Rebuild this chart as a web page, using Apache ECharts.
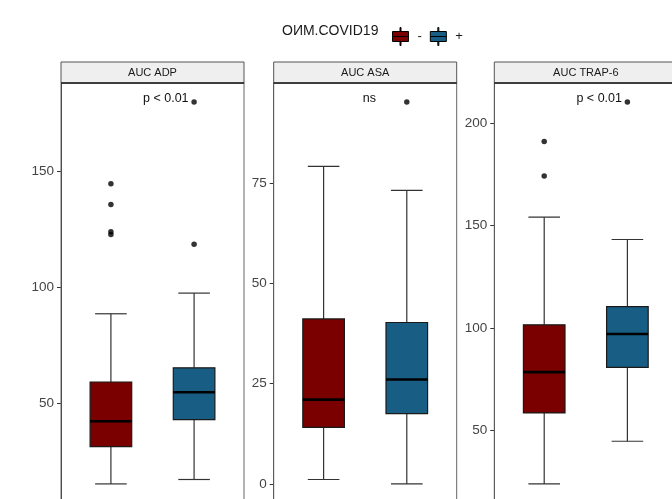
<!DOCTYPE html>
<html>
<head>
<meta charset="utf-8">
<script src="https://cdn.jsdelivr.net/npm/echarts@6/dist/echarts.min.js"></script>
<style>html,body{margin:0;padding:0;background:#fff;}#c{width:672px;height:499px;}</style>
</head>
<body>
<div id="c"></div>
<script>
// ---- data ----
const panels = ['AUC ADP', 'AUC ASA', 'AUC TRAP-6'];
const groups = ['-', '+'];
const groupX = [1, 2];
const legendTitle = 'ОИМ.COVID19';
// [min whisker, Q1, median, Q3, max whisker]
const adpNeg = [15.1, 31.2, 42.1, 59.0, 88.4];
const adpPos = [17.0, 42.8, 54.6, 65.1, 97.3];
const asaNeg = [1.1, 14.1, 21.0, 41.1, 79.1];
const asaPos = [0.0, 17.5, 26.0, 40.2, 73.1];
const trapNeg = [24.0, 58.6, 78.5, 101.6, 154.1];
const trapPos = [44.8, 80.8, 97.1, 110.5, 143.2];
// outliers
const adpNegOut = [144.4, 135.5, 123.7, 122.5];
const adpPosOut = [118.4, 179.6];
const asaNegOut = [];
const asaPosOut = [95.1];
const trapNegOut = [191.0, 174.1];
const trapPosOut = [210.2];
// tick labels
const ticksADP = [50, 100, 150];
const ticksASA = [0, 25, 50, 75];
const ticksTRAP = [50, 100, 150, 200];
// significance labels
const sigLabels = ['p < 0.01', 'ns', 'p < 0.01'];

// ---- layout / style ----
const colors = ['#7A0000', '#185E84'];
const gridLefts = [61, 273.7, 494.3];
const gridW = 183, gridTop = 83, gridH = 420;
const stripTop = 62;

const boxes = [[adpNeg, adpPos], [asaNeg, asaPos], [trapNeg, trapPos]];
const outs = [[adpNegOut, adpPosOut], [asaNegOut, asaPosOut], [trapNegOut, trapPosOut]];
const ticks = [ticksADP, ticksASA, ticksTRAP];

function range(p) {
  let lo = Infinity, hi = -Infinity;
  for (let g = 0; g < 2; g++) {
    boxes[p][g].concat(outs[p][g]).forEach(v => { lo = Math.min(lo, v); hi = Math.max(hi, v); });
  }
  const e = (hi - lo) * 0.05;
  return [lo - e, hi + e];
}

function renderBox(params, api) {
  const x = api.value(0);
  const lo = api.coord([x, api.value(1)]);
  const q1 = api.coord([x, api.value(2)]);
  const md = api.coord([x, api.value(3)]);
  const q3 = api.coord([x, api.value(4)]);
  const hi = api.coord([x, api.value(5)]);
  const bw = api.size([0.5, 0])[0];
  const cw = api.size([0.38, 0])[0];
  const cx = lo[0];
  const color = api.visual('color');
  const ws = { stroke: '#333', lineWidth: 1.2 };
  return {
    type: 'group',
    children: [
      { type: 'line', shape: { x1: cx, y1: hi[1], x2: cx, y2: q3[1] }, style: ws },
      { type: 'line', shape: { x1: cx, y1: q1[1], x2: cx, y2: lo[1] }, style: ws },
      { type: 'line', shape: { x1: cx - cw / 2, y1: hi[1], x2: cx + cw / 2, y2: hi[1] }, style: ws },
      { type: 'line', shape: { x1: cx - cw / 2, y1: lo[1], x2: cx + cw / 2, y2: lo[1] }, style: ws },
      { type: 'rect', shape: { x: cx - bw / 2, y: q3[1], width: bw, height: q1[1] - q3[1] },
        style: { fill: color, stroke: '#1A1A1A', lineWidth: 1.2 } },
      { type: 'line', shape: { x1: cx - bw / 2, y1: md[1], x2: cx + bw / 2, y2: md[1] },
        style: { stroke: '#000', lineWidth: 2.6 } }
    ]
  };
}

const grid = [], xAxis = [], yAxis = [], series = [], graphic = [];
for (let p = 0; p < 3; p++) {
  const r = range(p);
  grid.push({ left: gridLefts[p], top: gridTop, width: gridW, height: gridH, outerBoundsMode: 'none', containLabel: false });
  xAxis.push({ gridIndex: p, type: 'value', min: 0.4, max: 2.6, show: false });
  yAxis.push({
    gridIndex: p, type: 'value', min: r[0], max: r[1],
    splitLine: { show: false },
    axisLine: { show: true, onZero: false, lineStyle: { color: '#333', width: 1 } },
    axisTick: { show: true, length: 4, customValues: ticks[p], lineStyle: { color: '#333' } },
    axisLabel: { customValues: ticks[p], fontFamily: 'Liberation Sans, Arial', fontSize: 13.5, color: '#444', margin: 7 }
  });
  for (let g = 0; g < 2; g++) {
    series.push({
      type: 'custom', name: groups[g], xAxisIndex: p, yAxisIndex: p,
      itemStyle: { color: colors[g] },
      renderItem: renderBox,
      encode: { x: 0, y: [1, 2, 3, 4, 5] },
      data: [[groupX[g]].concat(boxes[p][g])],
      z: 3
    });
    if (outs[p][g].length) {
      series.push({
        type: 'scatter', name: 'outliers', xAxisIndex: p, yAxisIndex: p,
        symbolSize: 5.5, itemStyle: { color: '#000' },
        data: outs[p][g].map(v => [groupX[g], v]), z: 4
      });
    }
  }
  const L = gridLefts[p];
  // panel border
  graphic.push({ type: 'rect', shape: { x: L, y: gridTop, width: gridW, height: gridH },
    style: { fill: 'none', stroke: '#666', lineWidth: 1 }, z: 1 });
  // strip
  graphic.push({ type: 'rect', shape: { x: L, y: stripTop, width: gridW, height: gridTop - stripTop },
    style: { fill: '#EFEFEF', stroke: '#555', lineWidth: 1 }, z: 1 });
  graphic.push({ type: 'line', shape: { x1: L, y1: gridTop, x2: L + gridW, y2: gridTop },
    style: { stroke: '#222', lineWidth: 1.3 }, z: 2 });
  graphic.push({ type: 'text', x: L + gridW / 2, y: (stripTop + gridTop) / 2 + 0.5,
    style: { text: panels[p], fontFamily: 'Liberation Sans, Arial', fontSize: 11, fill: '#1A1A1A',
      textAlign: 'center', textVerticalAlign: 'middle' }, z: 3 });
}
// significance labels
const sigX = [165.8, 369.3, 599.2];
for (let p = 0; p < 3; p++) {
  graphic.push({ type: 'text', x: sigX[p], y: 99,
    style: { text: sigLabels[p], fontFamily: 'Liberation Sans, Arial', fontSize: 12.5, fill: '#111',
      textAlign: 'center', textVerticalAlign: 'middle' }, z: 5 });
}
// legend title
graphic.push({ type: 'text', x: 282, y: 31,
  style: { text: legendTitle, fontFamily: 'Liberation Sans, Arial', fontSize: 14, fill: '#1A1A1A',
    textAlign: 'left', textVerticalAlign: 'middle' } });

const keyIcon = 'path://M7.5,0 L8.5,0 L8.5,4 L7.5,4 Z M0,4 L16,4 L16,9 L0,9 Z M0,9 L16,9 L16,14 L0,14 Z M7.5,14 L8.5,14 L8.5,18 L7.5,18 Z';

const option = {
  backgroundColor: '#fff',
  animation: false,
  grid, xAxis, yAxis, series, graphic,
  legend: {
    left: 387, top: 22, itemWidth: 16, itemHeight: 18, itemGap: 8,
    textStyle: { fontFamily: 'Liberation Sans, Arial', fontSize: 13, color: '#1A1A1A', padding: [0, 0, 0, 4] },
    data: groups.map((g, i) => ({ name: g, icon: keyIcon,
      itemStyle: { color: colors[i], borderColor: '#000', borderWidth: 1 } }))
  }
};
const chart = echarts.init(document.getElementById('c'), null, { renderer: 'canvas' });
chart.setOption(option);
</script>
</body>
</html>
